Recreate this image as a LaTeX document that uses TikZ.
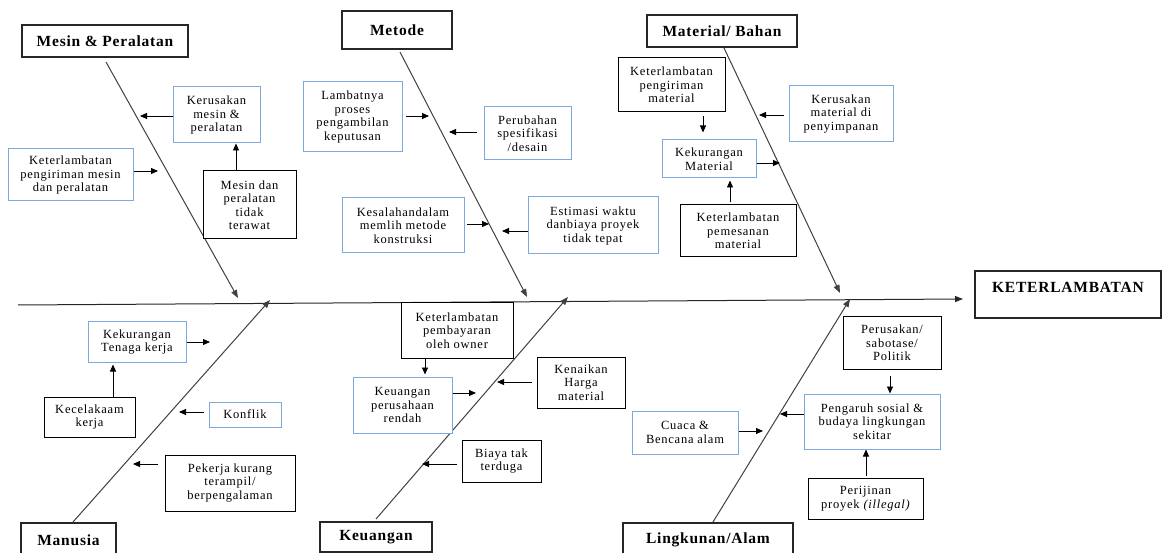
\documentclass[tikz,border=0pt]{standalone}
\usepackage{fontspec}
\setmainfont{Liberation Serif}
\newfontfamily\bodyf[LetterSpace=6]{Liberation Serif}
\newfontfamily\titlef[LetterSpace=5]{Liberation Serif}
\usetikzlibrary{arrows.meta}
\definecolor{boxblue}{RGB}{125,170,220}
\tikzset{
  base/.style={rectangle, inner sep=0pt, align=center, fill=white,
    font=\bodyf\fontsize{12.5}{13.5}\selectfont},
  bluebox/.style={base, draw=boxblue, line width=1pt},
  blackbox/.style={base, draw=black, line width=1pt},
  titlebox/.style={base, draw=black!85, line width=1.2pt,
    font=\titlef\bfseries\fontsize{15.5}{17}\selectfont},
  bone/.style={draw=black!75, line width=1pt},
  bonearr/.style={bone, -{Triangle[length=8pt,width=6pt]}},
  arr/.style={-{Triangle[length=7pt,width=6pt]}, line width=0.9pt, draw=black},
}
\begin{document}
\begin{tikzpicture}[x=1pt,y=-1pt]
\useasboundingbox (0,0) rectangle (1162,553);

% ---------- spine ----------
\coordinate (spL) at (18,305);
\coordinate (spR) at (963,299);
\draw[bonearr, draw=black!85] (spL) -- (spR);
\node[titlebox, minimum width=186, minimum height=47, text height=10pt, text depth=13pt] (keter) at (1068,294.5) {KETERLAMBATAN};

% ---------- Mesin & Peralatan ----------
\node[titlebox, minimum width=166, minimum height=32] (tMesin) at (105,41) {Mesin \& Peralatan};
\coordinate (bMesinA) at (106,62);
\coordinate (bMesinB) at (238,298);
\draw[bonearr] (bMesinA) -- (bMesinB);
\node[bluebox, minimum width=87, minimum height=56] (kerMesin) at (216.5,115) {Kerusakan\\mesin \&\\peralatan};
\node[bluebox, minimum width=125, minimum height=52] (ketMesin) at (70.5,175) {Keterlambatan\\pengiriman mesin\\dan peralatan};
\node[blackbox, minimum width=93, minimum height=68] (tidakRawat) at (249.5,205) {Mesin dan\\peralatan\\tidak\\terawat};
\coordinate (a1) at (140,116);
\draw[arr] (kerMesin.west |- a1) -- (a1);
\coordinate (a2) at (158,171);
\draw[arr] (ketMesin.east |- a2) -- (a2);
\coordinate (x3) at (236,0);
\draw[arr] (tidakRawat.north -| x3) -- (kerMesin.south -| x3);

% ---------- Metode ----------
\node[titlebox, minimum width=110, minimum height=38] (tMetode) at (397,30) {Metode};
\coordinate (bMetodeA) at (400,52);
\coordinate (bMetodeB) at (527,297);
\draw[bonearr] (bMetodeA) -- (bMetodeB);
\node[bluebox, minimum width=99, minimum height=70] (lamb) at (352.5,117) {Lambatnya\\proses\\pengambilan\\keputusan};
\node[bluebox, minimum width=87, minimum height=53] (perub) at (527.5,133.5) {Perubahan\\spesifikasi\\/desain};
\node[bluebox, minimum width=122, minimum height=55] (kesal) at (403,225.5) {Kesalahandalam\\memlih metode\\konstruksi};
\node[bluebox, minimum width=130, minimum height=57] (estim) at (593,225.5) {Estimasi waktu\\danbiaya proyek\\tidak tepat};
\coordinate (a4) at (429,116);
\draw[arr, shorten <=3pt] (lamb.east |- a4) -- (a4);
\coordinate (a5) at (449,132);
\draw[arr, shorten <=7pt] (perub.west |- a5) -- (a5);
\coordinate (a6) at (489,224);
\draw[arr, shorten <=2pt] (kesal.east |- a6) -- (a6);
\coordinate (a7) at (502,231);
\draw[arr] (estim.west |- a7) -- (a7);

% ---------- Material / Bahan ----------
\node[titlebox, minimum width=150, minimum height=32] (tMaterial) at (722,31) {Material/ Bahan};
\coordinate (bMatA) at (724,48);
\coordinate (bMatB) at (840,293);
\draw[bonearr] (bMatA) -- (bMatB);
\node[blackbox, minimum width=107, minimum height=54] (ketPeng) at (671.5,85) {Keterlambatan\\pengiriman\\material};
\node[bluebox, minimum width=94, minimum height=38] (kekMat) at (709,159) {Kekurangan\\Material};
\node[blackbox, minimum width=116, minimum height=52] (ketPem) at (738,231) {Keterlambatan\\pemesanan\\material};
\node[bluebox, minimum width=104, minimum height=56] (kerMat) at (841,114) {Kerusakan\\material di\\penyimpanan};
\coordinate (x8) at (703,0);
\draw[arr, shorten <=4pt, shorten >=7pt] (ketPeng.south -| x8) -- (kekMat.north -| x8);
\coordinate (a9) at (780,163);
\draw[arr] (kekMat.east |- a9) -- (a9);
\coordinate (x10) at (730,0);
\draw[arr, shorten <=2pt, shorten >=2pt] (ketPem.north -| x10) -- (kekMat.south -| x10);
\coordinate (a11) at (759,115);
\draw[arr, shorten <=5pt] (kerMat.west |- a11) -- (a11);

% ---------- Manusia ----------
\node[titlebox, minimum width=95, minimum height=34] (tManusia) at (68.5,540) {Manusia};
\coordinate (bManA) at (73,522);
\coordinate (bManB) at (270,300);
\draw[bonearr] (bManA) -- (bManB);
\node[bluebox, minimum width=98, minimum height=40] (kekTen) at (137,342) {Kekurangan\\Tenaga kerja};
\node[blackbox, minimum width=91, minimum height=40] (kecel) at (89.5,417) {Kecelakaam\\kerja};
\node[bluebox, minimum width=72, minimum height=25] (konflik) at (245,414.5) {Konflik};
\node[blackbox, minimum width=130, minimum height=56] (pekerja) at (230,483) {Pekerja kurang\\terampil/\\berpengalaman};
\coordinate (a12) at (210,342);
\draw[arr] (kekTen.east |- a12) -- (a12);
\coordinate (x13) at (113,0);
\draw[arr, shorten >=2pt] (kecel.north -| x13) -- (kekTen.south -| x13);
\coordinate (a14) at (179,412);
\draw[arr, shorten <=5pt] (konflik.west |- a14) -- (a14);
\coordinate (a15) at (133,464);
\draw[arr, shorten <=7pt] (pekerja.west |- a15) -- (a15);

% ---------- Keuangan ----------
\node[titlebox, minimum width=112, minimum height=30] (tKeu) at (376,537) {Keuangan};
\coordinate (bKeuA) at (376,519);
\coordinate (bKeuB) at (568,297);
\draw[bonearr] (bKeuA) -- (bKeuB);
\node[blackbox, minimum width=112, minimum height=55] (ketPemb) at (457,330.5) {Keterlambatan\\pembayaran\\oleh owner};
\node[bluebox, minimum width=99, minimum height=56] (keuPer) at (402.5,405) {Keuangan\\perusahaan\\rendah};
\node[blackbox, minimum width=88, minimum height=51] (kenaik) at (581,382.5) {Kenaikan\\Harga\\material};
\node[blackbox, minimum width=79, minimum height=42] (biaya) at (501.5,461) {Biaya tak\\terduga};
\coordinate (x16) at (425,0);
\draw[arr, shorten >=2pt] (ketPemb.south -| x16) -- (keuPer.north -| x16);
\coordinate (a17) at (476,393);
\draw[arr] (keuPer.east |- a17) -- (a17);
\coordinate (a18) at (497,382);
\draw[arr, shorten <=5pt] (kenaik.west |- a18) -- (a18);
\coordinate (a19) at (422,464);
\draw[arr, shorten <=5pt] (biaya.west |- a19) -- (a19);

% ---------- Lingkunan / Alam ----------
\node[titlebox, minimum width=170, minimum height=34] (tLing) at (708,540) {Lingkunan/Alam};
\coordinate (bLingA) at (713,522);
\coordinate (bLingB) at (850,299);
\draw[bonearr] (bLingA) -- (bLingB);
\node[blackbox, minimum width=98, minimum height=52] (perus) at (892,343) {Perusakan/\\sabotase/\\Politik};
\node[bluebox, minimum width=136, minimum height=55] (pengaruh) at (872,421.5) {Pengaruh sosial \&\\budaya lingkungan\\sekitar};
\node[bluebox, minimum width=106, minimum height=43] (cuaca) at (685,432.5) {Cuaca \&\\Bencana alam};
\node[blackbox, minimum width=115, minimum height=41] (perij) at (865.5,498.5) {Perijinan\\proyek {\itshape(illegal)}};
\coordinate (x20) at (890,0);
\draw[arr, shorten <=6pt] (perus.south -| x20) -- (pengaruh.north -| x20);
\coordinate (a21) at (780,414);
\draw[arr] (pengaruh.west |- a21) -- (a21);
\coordinate (a22) at (763,431);
\draw[arr] (cuaca.east |- a22) -- (a22);
\coordinate (x23) at (866,0);
\draw[arr, shorten <=2pt] (perij.north -| x23) -- (pengaruh.south -| x23);
\end{tikzpicture}
\end{document}
